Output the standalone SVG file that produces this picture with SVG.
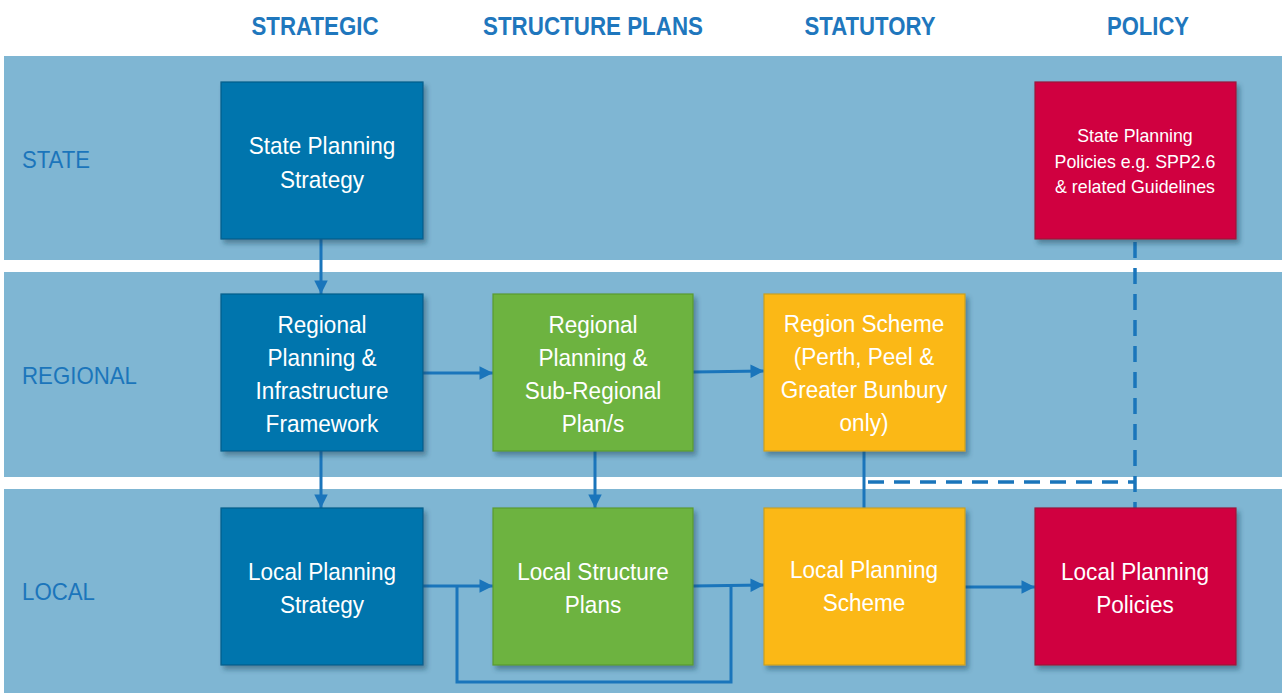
<svg xmlns="http://www.w3.org/2000/svg" width="1282" height="693" viewBox="0 0 1282 693">
<defs>
<filter id="sh" x="-10%" y="-10%" width="130%" height="130%">
<feDropShadow dx="3" dy="4" stdDeviation="2.5" flood-color="#1d3f55" flood-opacity="0.45"/>
</filter>
<marker id="ah" viewBox="0 0 10 10" refX="10" refY="5" markerWidth="5" markerHeight="4.5" orient="auto" markerUnits="strokeWidth">
<path d="M0,0 L10,5 L0,10 z" fill="#1a75bb"/>
</marker>
</defs>
<style>
.band{fill:#7fb6d3}
.hdr{font-family:"Liberation Sans",Arial,sans-serif;font-weight:bold;font-size:25px;fill:#1f77bd;text-anchor:middle}
.row{font-family:"Liberation Sans",Arial,sans-serif;font-size:24px;fill:#1b75bb}
.box{stroke-width:1.2;filter:url(#sh)}
.blue{fill:#0074ad;stroke:#0a5e8a}
.green{fill:#6db33f;stroke:#5a9a30}
.orange{fill:#fbb817;stroke:#c9a020}
.red{fill:#d0003f;stroke:#9a1a3a}
.t{font-family:"Liberation Sans",Arial,sans-serif;font-size:24px;fill:#ffffff;text-anchor:middle}
.ts{font-family:"Liberation Sans",Arial,sans-serif;font-size:18.5px;fill:#ffffff;text-anchor:middle}
.c{stroke:#1a75bb;stroke-width:3;fill:none}
.arr{marker-end:url(#ah)}
.d{stroke:#1a75bb;stroke-width:3.5;fill:none;stroke-dasharray:16 10}
</style>
<rect x="0" y="0" width="1282" height="693" fill="#ffffff"/>
<g id="bands">
<rect class="band" x="4" y="56" width="1278" height="204"/>
<rect class="band" x="4" y="272" width="1278" height="205"/>
<rect class="band" x="4" y="489" width="1278" height="204"/>
</g>
<g id="headers">
<text class="hdr" x="315" y="35" textLength="127" lengthAdjust="spacingAndGlyphs">STRATEGIC</text>
<text class="hdr" x="593" y="35" textLength="220" lengthAdjust="spacingAndGlyphs">STRUCTURE PLANS</text>
<text class="hdr" x="870" y="35" textLength="131" lengthAdjust="spacingAndGlyphs">STATUTORY</text>
<text class="hdr" x="1148" y="35" textLength="82" lengthAdjust="spacingAndGlyphs">POLICY</text>
</g>
<g id="rows">
<text class="row" x="22" y="168" textLength="68" lengthAdjust="spacingAndGlyphs">STATE</text>
<text class="row" x="22" y="384" textLength="115" lengthAdjust="spacingAndGlyphs">REGIONAL</text>
<text class="row" x="22" y="600" textLength="73" lengthAdjust="spacingAndGlyphs">LOCAL</text>
</g>
<g id="connectors">
<line class="c arr" x1="321" y1="239" x2="321" y2="294"/>
<line class="c arr" x1="321" y1="451" x2="321" y2="508"/>
<line class="c arr" x1="595" y1="451" x2="595" y2="508"/>
<line class="c arr" x1="423" y1="373" x2="493" y2="373"/>
<line class="c arr" x1="693" y1="372" x2="764" y2="371"/>
<line class="c" x1="864" y1="451" x2="864" y2="508"/>
<line class="d" x1="868" y1="482" x2="1135" y2="482"/>
<line class="d" x1="1135" y1="242" x2="1135" y2="508"/>
<line class="c arr" x1="423" y1="586" x2="493" y2="586"/>
<line class="c arr" x1="693" y1="586" x2="764" y2="585"/>
<polyline class="c" points="457,586 457,682 731,682 731,585"/>
<line class="c arr" x1="965" y1="587" x2="1035" y2="587"/>
</g>
<g id="state-planning-strategy">
<rect class="box blue" x="221" y="82" width="202" height="157"/>
<g transform="translate(322,0) scale(0.94,1)">
<text class="t" x="0" y="154">State Planning</text>
<text class="t" x="0" y="188">Strategy</text>
</g>
</g>
<g id="regional-planning-infrastructure">
<rect class="box blue" x="221" y="294" width="202" height="157"/>
<g transform="translate(322,0) scale(0.94,1)">
<text class="t" x="0" y="333">Regional</text>
<text class="t" x="0" y="366">Planning &amp;</text>
<text class="t" x="0" y="399">Infrastructure</text>
<text class="t" x="0" y="432">Framework</text>
</g>
</g>
<g id="local-planning-strategy">
<rect class="box blue" x="221" y="508" width="202" height="157"/>
<g transform="translate(322,0) scale(0.94,1)">
<text class="t" x="0" y="580">Local Planning</text>
<text class="t" x="0" y="613">Strategy</text>
</g>
</g>
<g id="regional-sub-regional-plans">
<rect class="box green" x="493" y="294" width="200" height="157"/>
<g transform="translate(593,0) scale(0.94,1)">
<text class="t" x="0" y="333">Regional</text>
<text class="t" x="0" y="366">Planning &amp;</text>
<text class="t" x="0" y="399">Sub-Regional</text>
<text class="t" x="0" y="432">Plan/s</text>
</g>
</g>
<g id="local-structure-plans">
<rect class="box green" x="493" y="508" width="200" height="157"/>
<g transform="translate(593,0) scale(0.94,1)">
<text class="t" x="0" y="580">Local Structure</text>
<text class="t" x="0" y="613">Plans</text>
</g>
</g>
<g id="region-scheme">
<rect class="box orange" x="764" y="294" width="201" height="157"/>
<g transform="translate(864,0) scale(0.94,1)">
<text class="t" x="0" y="332">Region Scheme</text>
<text class="t" x="0" y="365">(Perth, Peel &amp;</text>
<text class="t" x="0" y="398">Greater Bunbury</text>
<text class="t" x="0" y="431">only)</text>
</g>
</g>
<g id="local-planning-scheme">
<rect class="box orange" x="764" y="508" width="201" height="157"/>
<g transform="translate(864,0) scale(0.94,1)">
<text class="t" x="0" y="578">Local Planning</text>
<text class="t" x="0" y="611">Scheme</text>
</g>
</g>
<g id="state-planning-policies">
<rect class="box red" x="1035" y="82" width="201" height="157"/>
<g transform="translate(1135,0) scale(0.96,1)">
<text class="ts" x="0" y="142">State Planning</text>
<text class="ts" x="0" y="168">Policies e.g. SPP2.6</text>
<text class="ts" x="0" y="193">&amp; related Guidelines</text>
</g>
</g>
<g id="local-planning-policies">
<rect class="box red" x="1035" y="508" width="201" height="157"/>
<g transform="translate(1135,0) scale(0.94,1)">
<text class="t" x="0" y="580">Local Planning</text>
<text class="t" x="0" y="613">Policies</text>
</g>
</g>
</svg>
